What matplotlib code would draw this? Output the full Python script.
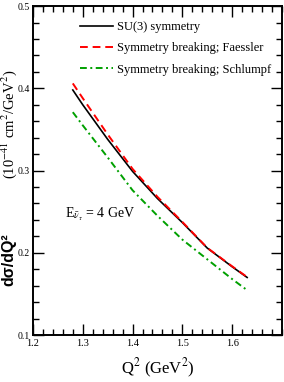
import matplotlib
matplotlib.use('Agg')
import matplotlib.pyplot as plt
from matplotlib.ticker import MultipleLocator

plt.rcParams['font.family'] = ['Liberation Serif', 'DejaVu Serif']
plt.rcParams['mathtext.fontset'] = 'stix'

# Q^2 values (GeV^2)
q2 = [1.28, 1.30, 1.35, 1.40, 1.45, 1.50, 1.55, 1.60, 1.63]
# d sigma / dQ^2 (10^-41 cm^2/GeV^2)
su3 = [0.398, 0.380, 0.338, 0.299, 0.266, 0.2367, 0.2057, 0.183, 0.170]
faessler = [0.406, 0.388, 0.344, 0.302, 0.268, 0.2375, 0.2060, 0.1835, 0.1705]
schlumpf = [0.371, 0.355, 0.316, 0.276, 0.245, 0.216, 0.192, 0.168, 0.1545]

labels = ['SU(3) symmetry', 'Symmetry breaking; Faessler',
          'Symmetry breaking; Schlumpf']

fig = plt.figure(figsize=(2.84, 3.82), dpi=100)
ax = fig.add_axes([0.116, 0.123, 0.877, 0.861])

ax.plot(q2, su3, color='black', lw=1.2, label=labels[0])
ax.plot(q2, faessler, color='#ff0000', lw=1.4, dashes=(4, 2.5), label=labels[1])
ax.plot(q2, schlumpf, color='#00a000', lw=1.4, dashes=(3.5, 1.8, 1, 1.8),
        label=labels[2])

ax.set_xlim(1.2, 1.7)
ax.set_ylim(0.1, 0.5)
ax.xaxis.set_minor_locator(MultipleLocator(0.02))
ax.yaxis.set_minor_locator(MultipleLocator(0.02))
ax.set_xticks([1.2, 1.3, 1.4, 1.5, 1.6])
ax.set_xticklabels(['1.2', '1.3', '1.4', '1.5', '1.6'])
ax.set_yticks([0.1, 0.2, 0.3, 0.4, 0.5])
ax.set_yticklabels(['0.1', '0.2', '0.3', '0.4', '0.5'])
ax.tick_params(which='both', direction='in', top=True, right=True,
               labelsize=7.5, width=1.0, pad=3)
ax.tick_params(axis='y', labelsize=7, pad=2)
ax.tick_params(which='major', length=8)
ax.tick_params(which='minor', length=4.5)
for s in ax.spines.values():
    s.set_linewidth(1.4)

ax.set_xlabel(r'Q$^2$ (GeV$^2$)', fontsize=12, labelpad=6)

fig.text(9 / 284, 1 - 286 / 382, 'dσ/dQ²', rotation=90, ha='center',
         va='bottom', fontsize=11.5, fontweight='bold',
         family='Liberation Sans')
fig.text(9 / 284, 1 - 70 / 382, r'(10$^{-41}$ cm$^2$/GeV$^2$)', rotation=90,
         ha='center', va='top', fontsize=10.5)

ax.text(1.264, 0.242, r'E$_{\bar{\nu}_{\tau}}$ = 4 GeV', fontsize=10)

ax.legend(loc='upper left', bbox_to_anchor=(0.189, 0.955), frameon=False,
          fontsize=9, handlelength=2.6, handletextpad=0.35,
          labelspacing=0.75, borderpad=0, borderaxespad=0)

fig.savefig('out.png', dpi=100)
